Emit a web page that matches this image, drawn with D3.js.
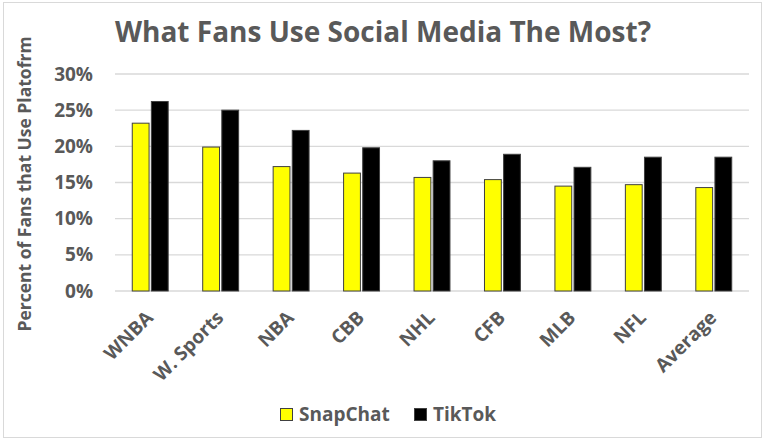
<!DOCTYPE html>
<html>
<head>
<meta charset="utf-8">
<script src="https://cdn.jsdelivr.net/npm/d3@7"></script>
<style>
  body { margin: 0; background: #fff; }
  text { font-family: "Open Sans", "Noto Sans", sans-serif; }
</style>
</head>
<body>
<div id="chart"></div>
<script>
const categories = ['WNBA', 'W. Sports', 'NBA', 'CBB', 'NHL', 'CFB', 'MLB', 'NFL', 'Average'];
const seriesNames = ['SnapChat', 'TikTok'];
const snapchat = [0.232, 0.199, 0.172, 0.163, 0.157, 0.154, 0.145, 0.147, 0.143];
const tiktok = [0.262, 0.250, 0.222, 0.198, 0.180, 0.189, 0.171, 0.185, 0.185];
const yTicks = [0, 0.05, 0.10, 0.15, 0.20, 0.25, 0.30];
const seriesColors = ['#ffff00', '#000000'];

const width = 766, height = 441;
const margin = { top: 74, right: 17, bottom: 150, left: 115 };
const plotW = width - margin.left - margin.right;
const plotH = 291 - margin.top;

const svg = d3.select('#chart')
  .append('svg')
  .attr('width', width)
  .attr('height', height);

// Outer border
svg.append('rect')
  .attr('x', 3.5).attr('y', 2.5)
  .attr('width', 758).attr('height', 435)
  .attr('fill', '#fff')
  .attr('stroke', '#d9d9d9');

const g = svg.append('g')
  .attr('transform', `translate(${margin.left},${margin.top})`);

// Scales
const x0 = d3.scaleBand()
  .domain(categories)
  .range([0, plotW])
  .paddingInner(0.49)
  .paddingOuter(0.245);

const x1 = d3.scaleBand()
  .domain(seriesNames)
  .range([0, x0.bandwidth()])
  .paddingInner(0.12);

const y = d3.scaleLinear()
  .domain([0, 0.30])
  .range([plotH, 0]);

// Gridlines
g.selectAll('.grid')
  .data(yTicks)
  .enter().append('line')
  .attr('x1', 0)
  .attr('x2', plotW)
  .attr('y1', d => y(d))
  .attr('y2', d => y(d))
  .attr('stroke', '#d9d9d9')
  .attr('stroke-width', 1.3);

// Y axis
const yAxis = g.append('g')
  .call(d3.axisLeft(y).tickValues(yTicks).tickFormat(d3.format('.0%')).tickSize(0).tickPadding(22));

yAxis.select('.domain').remove();
yAxis.selectAll('text')
  .style('font-size', '19px')
  .style('font-weight', 'bold')
  .style('fill', '#595959');

// Bars
const rows = categories.map((c, i) => ({ category: c, values: [snapchat[i], tiktok[i]] }));

const groups = g.selectAll('.group')
  .data(rows)
  .enter().append('g')
  .attr('transform', d => `translate(${x0(d.category)},0)`);

groups.selectAll('rect')
  .data(d => d.values.map((v, i) => ({ series: seriesNames[i], value: v, color: seriesColors[i] })))
  .enter().append('rect')
  .attr('x', d => x1(d.series))
  .attr('y', d => y(d.value))
  .attr('width', x1.bandwidth())
  .attr('height', d => plotH - y(d.value))
  .attr('fill', d => d.color)
  .attr('stroke', '#404040')
  .attr('stroke-width', 1);

// X axis labels (rotated)
const xAxis = g.append('g')
  .attr('transform', `translate(0,${plotH})`)
  .call(d3.axisBottom(x0).tickSize(0));

xAxis.select('.domain').remove();
xAxis.selectAll('text')
  .style('font-size', '19px')
  .style('font-weight', 'bold')
  .style('fill', '#595959')
  .attr('text-anchor', 'end')
  .attr('x', 0)
  .attr('y', 0)
  .attr('dy', 0)
  .attr('transform', 'translate(4,28) rotate(-45)');

// Title
svg.append('text')
  .attr('x', 383)
  .attr('y', 42)
  .attr('text-anchor', 'middle')
  .style('font-size', '28px')
  .style('font-weight', 'bold')
  .style('fill', '#595959')
  .text('What Fans Use Social Media The Most?');

// Y axis title
svg.append('text')
  .attr('transform', 'translate(31,184) rotate(-90)')
  .attr('text-anchor', 'middle')
  .style('font-size', '17.5px')
  .style('font-weight', 'bold')
  .style('fill', '#595959')
  .text('Percent of Fans that Use Platofrm');

// Legend
const legend = svg.append('g')
  .attr('transform', 'translate(280,408)');

const legendX = [0, 134];
seriesNames.forEach((name, i) => {
  const item = legend.append('g').attr('transform', `translate(${legendX[i]},0)`);
  item.append('rect')
    .attr('x', 0.5).attr('y', 0.5)
    .attr('width', 12).attr('height', 12)
    .attr('fill', seriesColors[i])
    .attr('stroke', '#404040');
  item.append('text')
    .attr('x', 19)
    .attr('y', 6.5)
    .attr('dy', '0.35em')
    .style('font-size', '19px')
    .style('font-weight', 'bold')
    .style('fill', '#595959')
    .text(name);
});
</script>
</body>
</html>
